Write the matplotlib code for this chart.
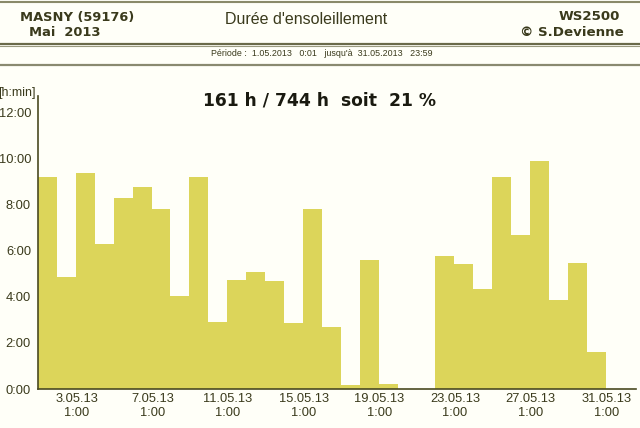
import matplotlib
matplotlib.use("Agg")
import matplotlib.pyplot as plt
from matplotlib.lines import Line2D

# sunshine duration per day, May 2013 (hours)
days = list(range(1, 32))
sunshine_h = [9.18, 4.85, 9.35, 6.3, 8.27, 8.74, 7.8, 4.03, 9.18, 2.9,
              4.72, 5.06, 4.68, 2.86, 7.8, 2.7, 0.17, 5.58, 0.2, 0.0,
              0.0, 5.76, 5.41, 4.33, 9.18, 6.67, 9.87, 3.85, 5.45, 1.6, 0.0]
tick_days = [3, 7, 11, 15, 19, 23, 27, 31]
tick_labels = [f"{d}.05.13\n1:00" for d in tick_days]
y_ticks = [0, 2, 4, 6, 8, 10, 12]
y_labels = [f"{h}:00" for h in y_ticks]

bar_col = "#dcd55a"
txt_col = "#3a3a1c"
bg = "#fffff8"

fig = plt.figure(figsize=(6.4, 4.28), dpi=100, facecolor=bg)
ax = fig.add_axes([38 / 640, 1 - 389 / 428, 598 / 640, 293 / 428])
ax.set_facecolor(bg)

ax.bar([d - 1 for d in days], sunshine_h, width=1.0, align="edge",
       color=bar_col, edgecolor="none")

ax.set_xlim(0, 31.6)
ax.set_ylim(0, 12.7)
ax.set_xticks([d - 1 + 1 / 24 for d in tick_days])
ax.set_xticklabels(tick_labels, fontsize=9.3, color=txt_col, family="Liberation Sans",
                   linespacing=1.15)
ax.set_yticks(y_ticks)
ax.set_yticklabels(y_labels, fontsize=9.3, color=txt_col, family="Liberation Sans")
ax.tick_params(length=0, pad=3)
ax.tick_params(axis="y", pad=5)
for s in ["top", "right"]:
    ax.spines[s].set_visible(False)
for s in ["left", "bottom"]:
    ax.spines[s].set_color("#4a4a22")
    ax.spines[s].set_linewidth(1.2)

ax.text(-0.1, 12.55, "[h:min]", ha="right", va="bottom",
        fontsize=9, color=txt_col, family="Liberation Sans")
ax.text(14.9, 12.5, "161 h / 744 h  soit  21 %", ha="center", va="center",
        fontsize=12.3, fontweight="bold", color="#1a1a10", family="DejaVu Sans")

# header
fig.text(20 / 640, 1 - 17 / 428, "MASNY (59176)", fontsize=9.4, fontweight="bold",
         color=txt_col, va="center", family="DejaVu Sans")
fig.text(29 / 640, 1 - 33 / 428, "Mai  2013", fontsize=9.4, fontweight="bold",
         color=txt_col, va="center", family="DejaVu Sans")
fig.text(306 / 640, 1 - 20 / 428, "Durée d'ensoleillement", fontsize=11.5,
         color=txt_col, ha="center", va="center", family="Liberation Sans")
fig.text(620 / 640, 1 - 17 / 428, "WS2500", fontsize=9.6, fontweight="bold",
         color=txt_col, ha="right", va="center", family="DejaVu Sans")
fig.text(624 / 640, 1 - 33 / 428, "© S.Devienne", fontsize=9.6, fontweight="bold",
         color=txt_col, ha="right", va="center", family="DejaVu Sans")
fig.text(322 / 640, 1 - 54 / 428,
         "Période :  1.05.2013   0:01   jusqu'à  31.05.2013   23:59",
         fontsize=6.4, color=txt_col, ha="center", va="center", family="Liberation Sans")

for y, lw, c in [(2, 1.5, "#8a8a6a"), (44, 1.6, "#6a6a4a"), (46, 0.8, "#9a9a80"),
                 (65, 1.6, "#8a8a70")]:
    fig.add_artist(Line2D([0, 1], [1 - y / 428, 1 - y / 428], transform=fig.transFigure,
                          color=c, linewidth=lw))

fig.savefig("out.png", dpi=100, facecolor=bg)
